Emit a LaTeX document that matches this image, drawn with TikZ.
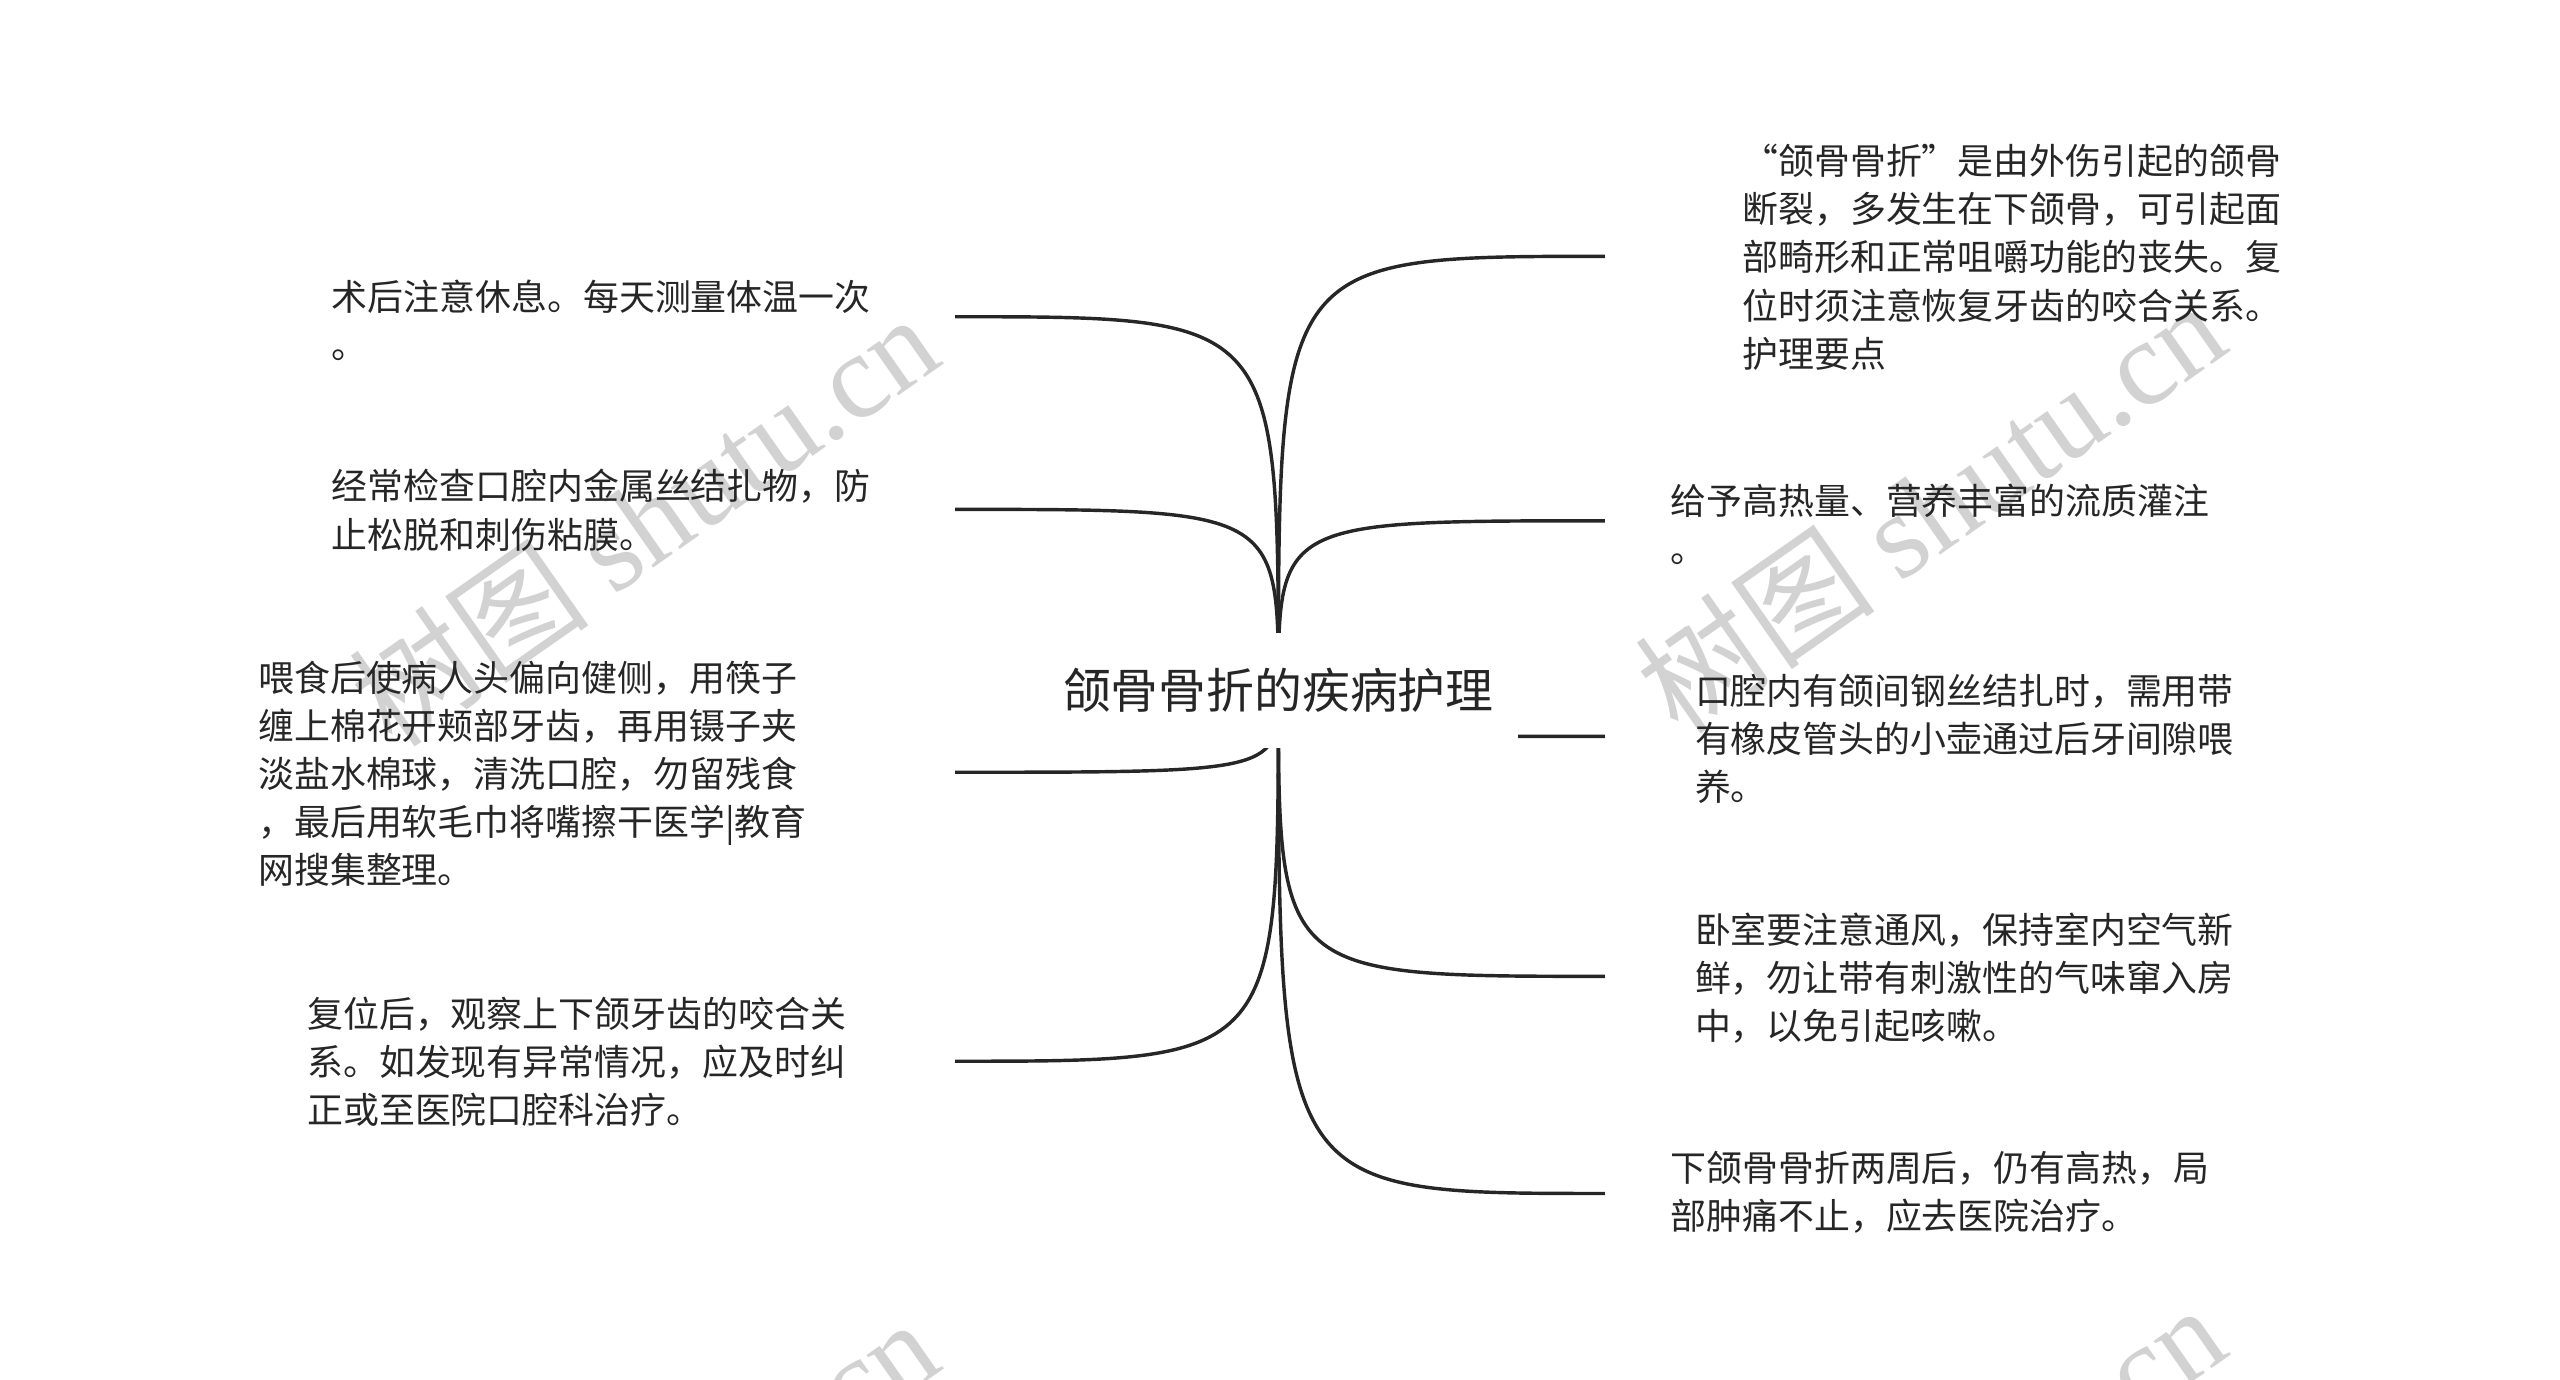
\documentclass[tikz,border=0pt]{standalone}
\usepackage{fontspec}
\setmainfont{Noto Sans CJK SC}
\newfontfamily\wmlatin{Liberation Serif}
\newfontfamily\cjkfont{Noto Sans CJK SC}
\usetikzlibrary{backgrounds}
\definecolor{ink}{HTML}{262626}
\definecolor{wmgray}{HTML}{D2D2D2}
\begin{document}
\begin{tikzpicture}[x=1pt,y=-1pt,
  txt/.style={anchor=west, align=left, inner sep=0pt, text=ink,
    font=\fontsize{22}{29.5}\selectfont},
  link/.style={draw=ink, line width=2.1pt},
  maintopic/.style={fill=white, text=ink, font=\fontsize{29.3}{35}\selectfont,
    minimum width=294pt, minimum height=70pt, inner sep=0pt},
  wm/.style={text=wmgray, rotate=35, inner sep=0pt, font=\fontsize{74}{80}\selectfont}
]
\useasboundingbox (0,0) rectangle (1568,845.25);

% central topic
\node[maintopic] (title) at (783,423) {颌骨骨折的疾病护理};

% connector end points
\coordinate (eA) at (585,194);
\coordinate (eB) at (585,312);
\coordinate (eC) at (585,473);
\coordinate (eD) at (585,650);
\coordinate (eE) at (983,157);
\coordinate (eF) at (983,319);
\coordinate (eG) at (983,451);
\coordinate (eH) at (983,598);
\coordinate (eI) at (983,731);

% text nodes
\node[txt] (nA) at (203,196) {术后注意休息。每天测量体温一次\\。};
\node[txt] (nB) at (203,312.5) {经常检查口腔内金属丝结扎物，防\\止松脱和刺伤粘膜。};
\node[txt] (nC) at (158,474) {喂食后使病人头偏向健侧，用筷子\\缠上棉花开颊部牙齿，再用镊子夹\\淡盐水棉球，清洗口腔，勿留残食\\，最后用软毛巾将嘴擦干医学|教育\\网搜集整理。};
\node[txt] (nD) at (188,650.5) {复位后，观察上下颌牙齿的咬合关\\系。如发现有异常情况，应及时纠\\正或至医院口腔科治疗。};
\node[txt] (nE) at (1067,157.5) {“颌骨骨折”是由外伤引起的颌骨\\断裂，多发生在下颌骨，可引起面\\部畸形和正常咀嚼功能的丧失。复\\位时须注意恢复牙齿的咬合关系。\\护理要点};
\node[txt] (nF) at (1023,321) {给予高热量、营养丰富的流质灌注\\。};
\node[txt] (nG) at (1038,452.5) {口腔内有颌间钢丝结扎时，需用带\\有橡皮管头的小壶通过后牙间隙喂\\养。};
\node[txt] (nH) at (1038,599) {卧室要注意通风，保持室内空气新\\鲜，勿让带有刺激性的气味窜入房\\中，以免引起咳嗽。};
\node[txt] (nI) at (1023,730.5) {下颌骨骨折两周后，仍有高热，局\\部肿痛不止，应去医院治疗。};

\begin{pgfonlayer}{background}
  % watermarks
  \begin{scope}
    \clip (0,0) rectangle (1568,845.25);
    \node[wm] (wm1) at (394,318) {{\cjkfont 树图} {\wmlatin shutu.cn}};
    \node[wm] (wm2) at (1182,310) {{\cjkfont 树图} {\wmlatin shutu.cn}};
    \node[wm] (wm3) at (394,933) {{\cjkfont 树图} {\wmlatin shutu.cn}};
    \node[wm] (wm4) at (1182,925) {{\cjkfont 树图} {\wmlatin shutu.cn}};
  \end{scope}
  % connectors
  \foreach \e in {eA,eB,eC,eD,eE,eF,eG,eH,eI}
    \draw[link] (title.center) .. controls (title.center |- \e) .. (\e);
\end{pgfonlayer}
\end{tikzpicture}
\end{document}
